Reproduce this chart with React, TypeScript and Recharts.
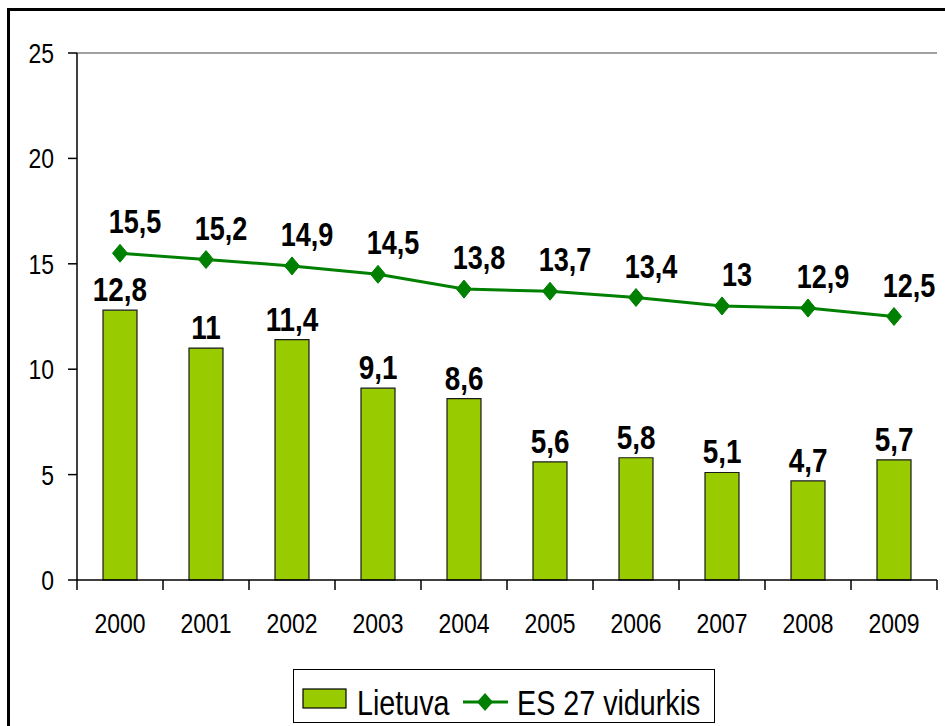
import React from 'react';
import {
  ComposedChart,
  Bar,
  Line,
  XAxis,
  YAxis,
  Legend,
  LabelList,
  ReferenceLine,
} from 'recharts';

const years = ['2000', '2001', '2002', '2003', '2004', '2005', '2006', '2007', '2008', '2009'];
const lietuva = [12.8, 11, 11.4, 9.1, 8.6, 5.6, 5.8, 5.1, 4.7, 5.7];
const es27 = [15.5, 15.2, 14.9, 14.5, 13.8, 13.7, 13.4, 13, 12.9, 12.5];
const yTicks = [0, 5, 10, 15, 20, 25];

const data = years.map((y, i) => ({ year: y, lt: lietuva[i], es: es27[i] }));

const FONT = '"Liberation Sans", Arial, sans-serif';
const NARROW = 0.82;
const BAR_FILL = '#99CC00';
const LINE_COLOR = '#008000';

const fmt = (v: number) => String(v).replace('.', ',');

const NText = (props: any) => {
  const { x, y, anchor = 'middle', size, bold, children } = props;
  return (
    <text
      transform={`translate(${x},${y}) scale(${NARROW},1)`}
      x={0}
      y={0}
      textAnchor={anchor}
      fontFamily={FONT}
      fontWeight={bold ? 'bold' : 'normal'}
      fontSize={size}
      fill="#000"
    >
      {children}
    </text>
  );
};

const XTick = (props: any) => {
  const { x, y, payload, index } = props;
  const off = payload?.offset ?? 0;
  const last = index === years.length - 1;
  return (
    <g>
      <line x1={x - off} x2={x - off} y1={y - 10} y2={y} stroke="#000" strokeWidth={1.5} />
      {last && <line x1={x + off} x2={x + off} y1={y - 10} y2={y} stroke="#000" strokeWidth={1.5} />}
      <NText x={x} y={y + 43} size={28}>{payload.value}</NText>
    </g>
  );
};

const YTick = (props: any) => {
  const { x, y, payload } = props;
  return (
    <NText x={x} y={y + 10} anchor="end" size={28}>{payload.value}</NText>
  );
};

const Diamond = (props: any) => {
  const { cx, cy } = props;
  if (cx == null || cy == null) return null;
  const w = 7.5;
  const h = 9;
  return (
    <polygon
      points={`${cx},${cy - h} ${cx + w},${cy} ${cx},${cy + h} ${cx - w},${cy}`}
      fill={LINE_COLOR}
      stroke={LINE_COLOR}
    />
  );
};

const BarLabel = (props: any) => {
  const { x, y, width, value } = props;
  return (
    <NText x={x + width / 2} y={y - 9} size={34} bold>{fmt(value)}</NText>
  );
};

const LineLabel = (props: any) => {
  const { x, y, value } = props;
  return (
    <NText x={x + 15} y={y - 20} size={33} bold>{fmt(value)}</NText>
  );
};

const LegendContent = () => (
  <div
    style={{
      boxSizing: 'border-box',
      width: 422,
      height: 54,
      border: '1.5px solid #000',
      background: '#fff',
      position: 'relative',
    }}
  >
    <svg width={422} height={54} style={{ position: 'absolute', left: -1.5, top: -1.5 }}>
      <rect x={10} y={20} width={43} height={19} fill={BAR_FILL} stroke="#000" strokeWidth={1.2} />
      <NText x={64} y={46} anchor="start" size={35}>Lietuva</NText>
      <line x1={170} x2={215} y1={33} y2={33} stroke={LINE_COLOR} strokeWidth={3} />
      <polygon points="192,24 200,33 192,42 184,33" fill={LINE_COLOR} />
      <NText x={224} y={46} anchor="start" size={35}>ES 27 vidurkis</NText>
    </svg>
  </div>
);

export default function App() {
  return (
    <div
      style={{
        position: 'fixed',
        left: 0,
        top: 0,
        width: 945,
        height: 726,
        overflow: 'hidden',
        background: '#fff',
      }}
    >
      <ComposedChart
        width={945}
        height={726}
        data={data}
        margin={{ top: 53, right: 8, left: 0, bottom: 3 }}
      >
        <XAxis
          dataKey="year"
          height={89}
          tickLine={false}
          tickSize={10}
          tickMargin={0}
          axisLine={{ stroke: '#000', strokeWidth: 1.5 }}
          tick={<XTick />}
          interval={0}
        />
        <YAxis
          domain={[0, 25]}
          ticks={yTicks}
          width={77}
          tickSize={9}
          tickMargin={14}
          axisLine={{ stroke: '#000', strokeWidth: 1.5 }}
          tickLine={{ stroke: '#000', strokeWidth: 1.5 }}
          tick={<YTick />}
          interval={0}
        />
        <YAxis
          yAxisId="right"
          orientation="right"
          width={0}
          domain={[0, 25]}
          tick={false}
          tickLine={false}
          axisLine={{ stroke: '#a0a0a0', strokeWidth: 2 }}
        />
        <ReferenceLine y={25} stroke="#a0a0a0" strokeWidth={2} />
        <Legend
          verticalAlign="bottom"
          content={<LegendContent />}
          wrapperStyle={{ left: 293, bottom: 3, width: 422, height: 54 }}
        />
        <Bar
          dataKey="lt"
          name="Lietuva"
          barSize={34}
          fill={BAR_FILL}
          stroke="#1a1a1a"
          strokeWidth={1.2}
          isAnimationActive={false}
        >
          <LabelList dataKey="lt" content={<BarLabel />} />
        </Bar>
        <Line
          dataKey="es"
          name="ES 27 vidurkis"
          stroke={LINE_COLOR}
          strokeWidth={3}
          dot={<Diamond />}
          activeDot={false}
          isAnimationActive={false}
        >
          <LabelList dataKey="es" content={<LineLabel />} />
        </Line>
      </ComposedChart>
      <div
        style={{
          position: 'absolute',
          left: 7,
          top: 8,
          width: 1000,
          height: 1000,
          border: '3px solid #000',
          pointerEvents: 'none',
        }}
      />
    </div>
  );
}
